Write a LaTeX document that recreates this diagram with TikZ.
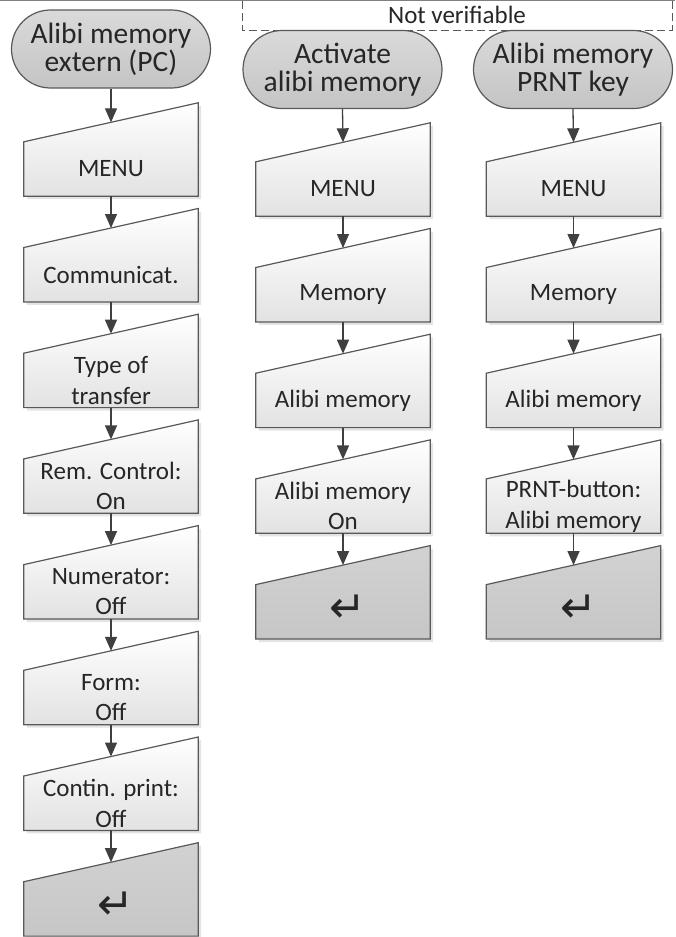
\documentclass[tikz,border=0pt]{standalone}
\usepackage{fontspec}
\setmainfont{Carlito}
\newfontfamily\symfont{DejaVu Sans}
\usetikzlibrary{arrows.meta,calc}
\pgfdeclarelayer{bg}
\pgfsetlayers{bg,main}
\definecolor{edge}{HTML}{595959}
\definecolor{txt}{HTML}{262626}
\definecolor{termtop}{HTML}{DADADA}
\definecolor{termbot}{HTML}{C4C4C4}
\definecolor{boxtop}{HTML}{FFFFFF}
\definecolor{boxbot}{HTML}{E2E2E2}
\definecolor{rettop}{HTML}{D2D2D2}
\definecolor{retbot}{HTML}{C6C6C6}
\definecolor{arr}{HTML}{404040}
\definecolor{shad}{HTML}{E4E4E4}
\tikzset{
  term/.style={draw=edge, line width=1.2pt, rounded corners=39pt, top color=termtop, bottom color=termbot,
    minimum width=199pt, minimum height=78pt, inner sep=0pt, align=center,
    font=\fontsize{29.5}{28}\selectfont, text=txt},
  inbox/.style={minimum width=174pt, minimum height=54pt, inner sep=0pt, align=center,
    font=\fontsize{25}{30.5}\selectfont, text=txt},
  lightfill/.style={top color=boxtop, bottom color=boxbot},
  darkfill/.style={top color=rettop, bottom color=retbot},
  flow/.style={draw=arr, line width=1.3pt, -{Triangle[length=14pt,width=12pt]}}
}
\newcommand\retglyph{\kern10pt\raisebox{7pt}{\symfont\fontsize{44}{44}\selectfont ↵}}
\newcommand\mibox[2]{%
  \begin{pgfonlayer}{bg}
    \fill[shad] ([shift={(3pt,-3pt)}]#1.south west) -- ([shift={(3pt,-3pt)}]#1.south east)
      -- ([shift={(3pt,36pt)}]#1.north east) -- ([shift={(3pt,-3pt)}]#1.north west) -- cycle;
    \path[#2, draw=edge, line width=1.2pt] (#1.south west) -- (#1.south east)
      -- ([yshift=39pt]#1.north east) -- (#1.north west) -- cycle;
  \end{pgfonlayer}}
\begin{document}
\begin{tikzpicture}[x=1pt,y=-1pt]
\useasboundingbox (0,0) rectangle (675,937);
% top border and dashed group
\draw[gray, line width=1.2pt] (0,0.8) -- (675,0.8);
\draw[edge, line width=1pt, dash pattern=on 8pt off 4pt] (242,1) -- (242,30) -- (672,30) -- (672,1);
\node[font=\fontsize{25}{30}\selectfont, text=txt] (nv) at (457,15) {Not verifiable};
% terminals
\node[term] (t1) at (111,49) {Alibi memory\\extern (PC)};
\node[term] (t2) at (342.5,69.5) {Activate\\alibi memory};
\node[term] (t3) at (573,69.5) {Alibi memory\\PRNT key};
% left column
\node[inbox] (a0) at (111,169) {MENU};
\node[inbox] (a1) at (111,274.7) {Communicat.};
\node[inbox] (a2) at (111,380.4) {Type of\\transfer};
\node[inbox] (a3) at (111,486.1) {Rem. Control:\\On};
\node[inbox] (a4) at (111,591.8) {Numerator:\\Off};
\node[inbox] (a5) at (111,697.5) {Form:\\Off};
\node[inbox] (a6) at (111,803.2) {Contin. print:\\Off};
\node[inbox] (a7) at (111,908.9) {\retglyph};
% middle column
\node[inbox] (b0) at (343,189) {MENU};
\node[inbox] (b1) at (343,294.7) {Memory};
\node[inbox] (b2) at (343,400.4) {Alibi memory};
\node[inbox] (b3) at (343,506.1) {Alibi memory\\On};
\node[inbox] (b4) at (343,611.8) {\retglyph};
% right column
\node[inbox] (c0) at (573.5,189) {MENU};
\node[inbox] (c1) at (573.5,294.7) {Memory};
\node[inbox] (c2) at (573.5,400.4) {Alibi memory};
\node[inbox] (c3) at (573.5,506.1) {PRNT-button:\\Alibi memory};
\node[inbox] (c4) at (573.5,611.8) {\retglyph};
% shapes
\foreach \n in {a0,a1,a2,a3,a4,a5,a6,b0,b1,b2,b3,c0,c1,c2,c3} {\mibox{\n}{lightfill}}
\foreach \n in {a7,b4,c4} {\mibox{\n}{darkfill}}
% connectors
\draw[flow] (t1.south) -- ([yshift=19.5pt]a0.north);
\draw[flow] (t2.south) -- ([yshift=19.5pt]b0.north);
\draw[flow] (t3.south) -- ([yshift=19.5pt]c0.north);
\foreach \p/\q in {a0/a1,a1/a2,a2/a3,a3/a4,a4/a5,a5/a6,a6/a7,b0/b1,b1/b2,b2/b3,b3/b4,c0/c1,c1/c2,c2/c3,c3/c4}
  {\draw[flow] (\p.south) -- ([yshift=19.5pt]\q.north);}
\end{tikzpicture}
\end{document}
